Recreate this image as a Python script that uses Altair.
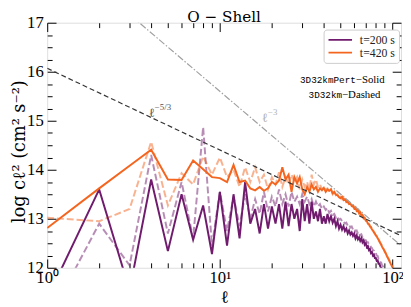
import math
import altair as alt
import pandas as pd

ell = list(range(1, 101))

pert_t200 = [11.37, 13.60, 11.54, 13.80, 12.34, 13.50, 12.57, 13.27, 12.28, 13.55,
             12.45, 13.50, 12.60, 13.75, 12.90, 13.20, 12.70, 13.30, 12.80, 13.25,
             12.90, 13.30, 12.80, 13.35, 12.85, 13.30, 13.00, 13.20, 12.75, 13.40,
             12.95, 13.30, 12.90, 13.35, 13.00, 13.15, 12.95, 13.20, 12.90, 13.05,
             12.90, 13.10, 12.95, 13.05, 12.92, 13.00, 12.85, 12.95, 12.80, 12.88,
             12.78, 12.85, 12.75, 12.80, 12.70, 12.76, 12.68, 12.72, 12.65, 12.70,
             12.60, 12.66, 12.58, 12.62, 12.55, 12.60, 12.52, 12.56, 12.47, 12.50,
             12.42, 12.44, 12.36, 12.38, 12.30, 12.32, 12.25, 12.27, 12.20, 12.20,
             12.14, 12.15, 12.08, 12.08, 12.02, 12.00, 11.95, 11.92, 11.88, 11.85,
             11.82, 11.78, 11.75, 11.72, 11.68, 11.65, 11.62, 11.58, 11.55, 11.52]

pert_t420 = [12.81, 13.62, 14.08, 14.41, 13.80, 13.79, 14.19, 14.01, 13.85, 13.83,
             13.75, 14.10, 13.75, 13.78, 13.62, 13.58, 13.65, 13.57, 13.62, 13.75,
             13.70, 13.78, 14.05, 13.80, 13.90, 13.55, 13.85, 13.72, 13.85, 13.60,
             13.50, 13.65, 13.55, 13.70, 13.60, 13.65, 13.55, 13.62, 13.58, 13.63,
             13.55, 13.60, 13.57, 13.60, 13.52, 13.55, 13.49, 13.48, 13.44, 13.42,
             13.45, 13.38, 13.40, 13.34, 13.36, 13.30, 13.31, 13.26, 13.27, 13.21,
             13.23, 13.16, 13.18, 13.11, 13.13, 13.06, 13.08, 13.01, 13.02, 12.96,
             12.95, 12.90, 12.89, 12.84, 12.83, 12.78, 12.76, 12.72, 12.70, 12.66,
             12.64, 12.60, 12.57, 12.53, 12.50, 12.47, 12.43, 12.40, 12.37, 12.33,
             12.30, 12.27, 12.23, 12.20, 12.17, 12.13, 12.10, 12.07, 12.04, 12.00]

base_t200 = [10.90, 12.90, 12.05, 14.30, 12.70, 13.75, 12.60, 14.87, 12.45, 13.55,
             12.75, 13.45, 12.85, 13.50, 13.00, 13.40, 13.10, 13.55, 13.15, 13.45,
             13.25, 13.60, 13.30, 13.50, 13.25, 13.55, 13.35, 13.45, 13.30, 13.50,
             13.35, 13.45, 13.30, 13.40, 13.25, 13.35, 13.25, 13.30, 13.20, 13.25,
             13.18, 13.22, 13.12, 13.16, 13.08, 13.10, 13.02, 13.05, 12.98, 13.00,
             12.95, 12.96, 12.90, 12.92, 12.86, 12.88, 12.82, 12.84, 12.78, 12.80,
             12.74, 12.76, 12.70, 12.72, 12.66, 12.68, 12.62, 12.62, 12.56, 12.56,
             12.52, 12.52, 12.47, 12.47, 12.42, 12.40, 12.36, 12.35, 12.30, 12.30,
             12.25, 12.24, 12.18, 12.17, 12.12, 12.10, 12.05, 12.03, 11.98, 11.95,
             11.92, 11.88, 11.85, 11.81, 11.78, 11.74, 11.71, 11.67, 11.64, 11.60]

base_t420 = [13.02, 12.95, 13.20, 14.57, 13.27, 13.93, 13.70, 14.27, 13.90, 14.25,
             13.85, 14.00, 13.65, 14.05, 13.75, 14.05, 13.75, 13.90, 13.60, 13.85,
             13.70, 13.95, 13.65, 13.85, 13.70, 13.90, 13.75, 13.85, 13.60, 13.80,
             13.65, 13.75, 13.60, 13.90, 13.70, 13.80, 13.65, 13.70, 13.60, 13.65,
             13.60, 13.62, 13.55, 13.60, 13.50, 13.55, 13.48, 13.50, 13.42, 13.45,
             13.40, 13.42, 13.36, 13.38, 13.33, 13.34, 13.29, 13.30, 13.24, 13.25,
             13.20, 13.21, 13.15, 13.16, 13.10, 13.11, 13.05, 13.05, 13.00, 12.99,
             12.94, 12.93, 12.88, 12.87, 12.82, 12.80, 12.76, 12.74, 12.70, 12.67,
             12.64, 12.61, 12.58, 12.55, 12.51, 12.48, 12.45, 12.41, 12.38, 12.35,
             12.32, 12.28, 12.25, 12.21, 12.18, 12.15, 12.11, 12.08, 12.05, 12.02]

times = ["t=200 s", "t=420 s"]
colors = ["#701b6e", "#f4661f"]

x_major = [1, 10, 100]
x_ticks = [1, 2, 3, 4, 5, 6, 7, 8, 9, 10, 20, 30, 40, 50, 60, 70, 80, 90, 100]
y_major = [12, 13, 14, 15, 16, 17]
y_ticks = [12 + 0.25 * i for i in range(21)]

# power-law guide lines: log c^2 = amp + slope * log10(ell)
pl_ell = [1, 112]
kol_amp, kol_slope = 16.07, -5.0 / 3.0
steep_amp, steep_slope = 18.6, -3.0

W, H = 361, 250
XMIN, XMAX = 1, 112
YMIN, YMAX = 12, 17

SERIF = "Liberation Serif"


def long_df(a, b):
    return pd.DataFrame({
        "ell": ell + ell,
        "val": a + b,
        "time": [times[0]] * len(ell) + [times[1]] * len(ell),
    })


solid_df = long_df(pert_t200, pert_t420)
dash_df = long_df(base_t200, base_t420)
kol_df = pd.DataFrame({"ell": pl_ell,
                       "val": [kol_amp + kol_slope * math.log10(e) for e in pl_ell]})
steep_df = pd.DataFrame({"ell": pl_ell,
                         "val": [steep_amp + steep_slope * math.log10(e) for e in pl_ell]})

xs = alt.Scale(type="log", domain=[XMIN, XMAX], nice=False)
ys = alt.Scale(domain=[YMIN, YMAX], nice=False, zero=False)

x_tick_size = {"condition": {"test": "datum.value == 1 || datum.value == 10 || datum.value == 100",
                             "value": 9}, "value": 5}
y_tick_size = {"condition": {"test": "datum.value % 1 == 0", "value": 9}, "value": 5}

main_x_axis = alt.Axis(orient="bottom", values=x_major, ticks=False, domain=False, grid=False,
                       labelExpr="datum.value == 1 ? '10⁰' : datum.value == 10 ? '10¹' : '10²'",
                       labelFont=SERIF, labelFontSize=17, labelColor="black", labelPadding=2,
                       labelFlush=False, labelOverlap=False,
                       title="ℓ", titleFont="DejaVu Serif", titleFontSize=18,
                       titleFontWeight="normal", titleColor="black",
                       titleBaseline="alphabetic", titleY=35)
main_y_axis = alt.Axis(orient="left", values=y_major, ticks=False, domain=False, grid=False,
                       format="d", labelFont=SERIF, labelFontSize=17, labelColor="black",
                       labelPadding=4, labelOverlap=False,
                       title="log cℓ² (cm² s⁻²)", titleFont="DejaVu Serif", titleFontSize=18,
                       titleFontWeight="normal", titleColor="black", titleAngle=270,
                       titleBaseline="top", titleAlign="center", titleX=-37, titleY=H / 2 + 6)


def tick_axis(orient, offset, values, size):
    return alt.Axis(orient=orient, offset=offset, values=values, tickSize=size,
                    tickColor="black", tickWidth=1, labels=False, domain=False,
                    grid=False, title=None)


dashed = alt.Chart(dash_df).mark_line(strokeWidth=2, opacity=0.5, strokeDash=[7, 3],
                                      clip=True).encode(
    x=alt.X("ell:Q", scale=xs, axis=None),
    y=alt.Y("val:Q", scale=ys, axis=None),
    stroke=alt.Stroke("time:N", scale=alt.Scale(domain=times, range=colors), legend=None),
)

solid = alt.Chart(solid_df).mark_line(strokeWidth=2, clip=True).encode(
    x=alt.X("ell:Q", scale=xs, axis=main_x_axis),
    y=alt.Y("val:Q", scale=ys, axis=main_y_axis),
    color=alt.Color("time:N", scale=alt.Scale(domain=times, range=colors),
                    legend=alt.Legend(title=None, orient="none", legendX=282, legendY=7,
                                      symbolType="stroke", symbolSize=576,
                                      symbolStrokeWidth=2, labelFont=SERIF,
                                      labelFontSize=12, labelColor="#222222",
                                      labelOffset=7, fillColor="white",
                                      strokeColor="#cccccc", cornerRadius=3, padding=4,
                                      clipHeight=13, rowPadding=0)),
)

kol = alt.Chart(kol_df).mark_line(color="#333333", strokeWidth=1.2, strokeDash=[5, 3],
                                  clip=True).encode(
    x=alt.X("ell:Q", scale=xs, axis=None), y=alt.Y("val:Q", scale=ys, axis=None))
steep = alt.Chart(steep_df).mark_line(color="#a0a0a0", strokeWidth=1.2,
                                      strokeDash=[7, 2, 1.5, 2], clip=True).encode(
    x=alt.X("ell:Q", scale=xs, axis=None), y=alt.Y("val:Q", scale=ys, axis=None))


def ticks_layer(xaxis, yaxis):
    return alt.Chart(kol_df).mark_point(opacity=0).encode(
        x=alt.X("ell:Q", scale=xs, axis=xaxis),
        y=alt.Y("val:Q", scale=ys, axis=yaxis))


t_bottom = ticks_layer(tick_axis("top", -H, x_ticks, x_tick_size), None)
t_top = ticks_layer(tick_axis("bottom", -H, x_ticks, x_tick_size), None)
t_left = ticks_layer(None, tick_axis("right", -W, y_ticks, y_tick_size))
t_right = ticks_layer(None, tick_axis("left", -W, y_ticks, y_tick_size))

# annotations (data coordinates)
ann_df = pd.DataFrame({
    "ell": [3.87, 17.5],
    "val": [15.08, 14.98],
    "txt": ["ℓ", "ℓ"],
    "col": ["#555555", "#b0b0b0"],
})
sup_df = pd.DataFrame({
    "ell": [4.2, 19.0],
    "val": [15.22, 15.12],
    "txt": ["−5/3", "−3"],
    "col": ["#555555", "#b0b0b0"],
})
ann = alt.Chart(ann_df).mark_text(font="DejaVu Serif", fontSize=13, align="left",
                                  baseline="alphabetic").encode(
    x=alt.X("ell:Q", scale=xs, axis=None), y=alt.Y("val:Q", scale=ys, axis=None),
    text="txt:N", color=alt.Color("col:N", scale=None))
sup = alt.Chart(sup_df).mark_text(font=SERIF, fontSize=9, align="left",
                                  baseline="alphabetic").encode(
    x=alt.X("ell:Q", scale=xs, axis=None), y=alt.Y("val:Q", scale=ys, axis=None),
    text="txt:N", color=alt.Color("col:N", scale=None))

run_mono = pd.DataFrame({"ell": [61.3, 51.0], "val": [15.76, 15.46],
                         "txt": ["3D32kmPert", "3D32km"]})
run_serif = pd.DataFrame({"ell": [61.3, 51.0], "val": [15.76, 15.46],
                          "txt": ["−Solid", "−Dashed"]})
mono = alt.Chart(run_mono).mark_text(font="Liberation Mono", fontSize=9.5, align="right",
                                     baseline="alphabetic", color="black").encode(
    x=alt.X("ell:Q", scale=xs, axis=None), y=alt.Y("val:Q", scale=ys, axis=None),
    text="txt:N")
serif_txt = alt.Chart(run_serif).mark_text(font=SERIF, fontSize=11, align="left",
                                           baseline="alphabetic", color="black").encode(
    x=alt.X("ell:Q", scale=xs, axis=None), y=alt.Y("val:Q", scale=ys, axis=None),
    text="txt:N")

# chart title, placed just above the frame (centre of the log axis)
title_df = pd.DataFrame({"ell": [10.58], "val": [17.02], "txt": ["O − Shell"]})
title_txt = alt.Chart(title_df).mark_text(font="DejaVu Serif", fontSize=15.5, align="center",
                                          baseline="alphabetic", color="black").encode(
    x=alt.X("ell:Q", scale=xs, axis=None), y=alt.Y("val:Q", scale=ys, axis=None),
    text="txt:N")

chart = alt.layer(
    t_bottom, t_top, t_left, t_right,
    dashed, solid, kol, steep, ann, sup, mono, serif_txt, title_txt,
).resolve_axis(x="independent", y="independent").resolve_scale(
    color="independent"
).properties(
    width=W, height=H,
    autosize=alt.AutoSizeParams(type="none"),
    padding={"left": 40, "top": 12, "right": 2, "bottom": 37},
).configure_view(stroke="black", strokeWidth=1.3).configure(background="white")

chart.save("out.html", embed_options={"renderer": "svg", "actions": False})
